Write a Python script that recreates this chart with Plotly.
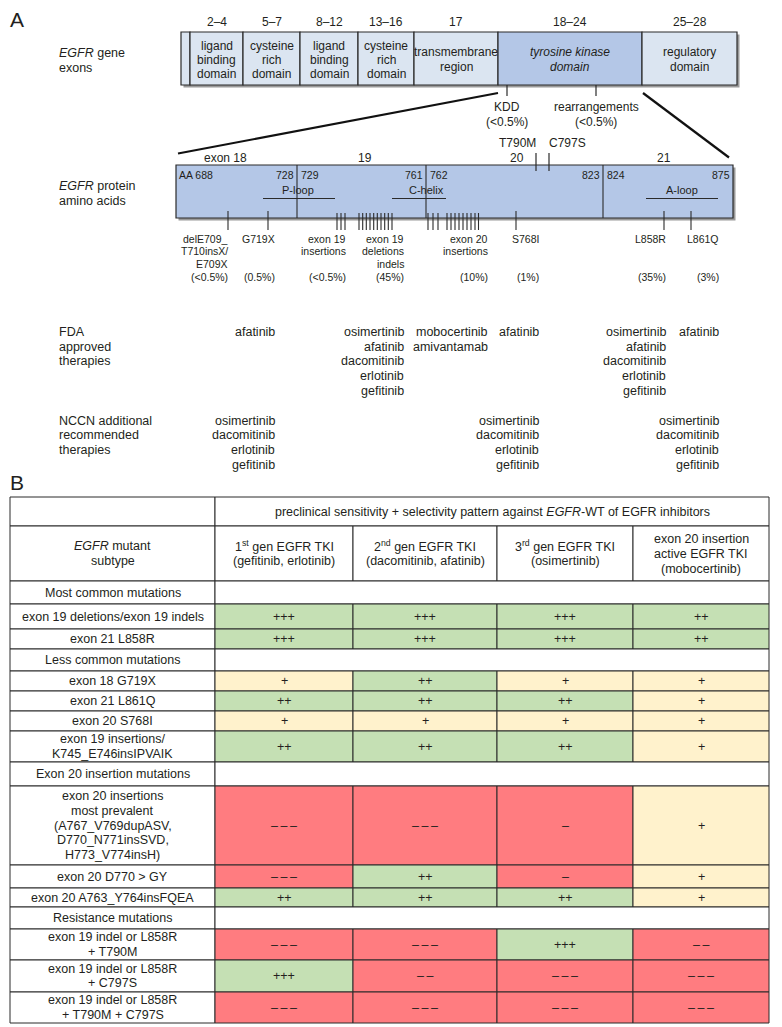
import plotly.graph_objects as go

W, H = 782, 1027
PAGE_MARGIN = 8  # default body margin of the written html page
FONT = "Liberation Sans, Arial, Helvetica, sans-serif"
TXT = "#231f20"
LINE = "#2b2b2b"
LIGHT_BLUE = "#dbe5f1"
MID_BLUE = "#b4c7e7"
GREEN = "#c5e0b4"
YELLOW = "#fff2cc"
RED = "#ff7c80"

# ------------------------------------------------------------------ data
gene_exon_labels = ["", "2–4", "5–7", "8–12", "13–16", "17", "18–24", "25–28"]
gene_domain_labels = ["", "ligand\nbinding\ndomain", "cysteine\nrich\ndomain",
                      "ligand\nbinding\ndomain", "cysteine\nrich\ndomain",
                      "transmembrane\nregion", "<i>tyrosine kinase</i>\n<i>domain</i>",
                      "regulatory\ndomain"]
kinase_callouts = ["KDD", "rearrangements"]
kinase_callout_freqs = ["(<0.5%)", "(<0.5%)"]

protein_exons = ["exon 18", "19", "20", "21"]
aa_start_labels = ["AA 688", "729", "762", "824"]
aa_end_labels = ["728", "761", "823", "875"]
motifs = ["P-loop", "C-helix", "A-loop"]
resistance_sites = ["T790M", "C797S"]

mutation_names = ["delE709_\nT710insX/\nE709X", "G719X", "exon 19\ninsertions",
                  "exon 19\ndeletions\nindels", "exon 20\ninsertions", "S768I",
                  "L858R", "L861Q"]
mutation_freqs = ["(<0.5%)", "(0.5%)", "(<0.5%)", "(45%)", "(10%)", "(1%)",
                  "(35%)", "(3%)"]
fda_therapies = [[], ["afatinib"], [],
                 ["osimertinib", "afatinib", "dacomitinib", "erlotinib", "gefitinib"],
                 ["mobocertinib", "amivantamab"], ["afatinib"],
                 ["osimertinib", "afatinib", "dacomitinib", "erlotinib", "gefitinib"],
                 ["afatinib"]]
nccn_therapies = [[], ["osimertinib", "dacomitinib", "erlotinib", "gefitinib"], [], [], [],
                  ["osimertinib", "dacomitinib", "erlotinib", "gefitinib"], [],
                  ["osimertinib", "dacomitinib", "erlotinib", "gefitinib"]]

table_title = "preclinical sensitivity + selectivity pattern against <i>EGFR</i>-WT of EGFR inhibitors"
table_corner = "<i>EGFR</i> mutant\nsubtype"
tki_columns = ["1<sup>st</sup> gen EGFR TKI\n(gefitinib, erlotinib)",
               "2<sup>nd</sup> gen EGFR TKI\n(dacomitinib, afatinib)",
               "3<sup>rd</sup> gen EGFR TKI\n(osimertinib)",
               "exon 20 insertion\nactive EGFR TKI\n(mobocertinib)"]
table_rows = ["Most common mutations",
              "exon 19 deletions/exon 19 indels",
              "exon 21 L858R",
              "Less common mutations",
              "exon 18 G719X",
              "exon 21 L861Q",
              "exon 20 S768I",
              "exon 19 insertions/\nK745_E746insIPVAIK",
              "Exon 20 insertion mutations",
              "exon 20 insertions\nmost prevalent\n(A767_V769dupASV,\nD770_N771insSVD,\nH773_V774insH)",
              "exon 20 D770 > GY",
              "exon 20 A763_Y764insFQEA",
              "Resistance mutations",
              "exon 19 indel or L858R\n+ T790M",
              "exon 19 indel or L858R\n+ C797S",
              "exon 19 indel or L858R\n+ T790M + C797S"]
gen1_tki = [None, "+++", "+++", None, "+", "++", "+", "++", None, "---", "---", "++", None, "---", "+++", "---"]
gen2_tki = [None, "+++", "+++", None, "++", "++", "+", "++", None, "---", "++", "++", None, "---", "--", "---"]
gen3_tki = [None, "+++", "+++", None, "+", "++", "+", "++", None, "-", "-", "++", None, "+++", "---", "---"]
mobocertinib = [None, "++", "++", None, "+", "+", "+", "+", None, "+", "+", "+", None, "--", "---", "---"]

# ------------------------------------------------------------------ geometry (page pixels)
gene_x = [181, 190, 243, 300, 358, 414, 498, 642, 737]
gene_y = (32, 85)
kinase_segment = 6
callout_x = [507, 596]
prot_x = [176, 297, 426, 603, 733]
prot_y = (165, 218)
prot_exon_label_x = [225, 365, 517, 664]
resistance_x = [536, 549]
resistance_label_x = [517, 567]
motif_span = [(263, 335), (392, 446), (646, 718)]
motif_label_x = [298, 426, 682]
mutation_ticks = [[228], [268], [337, 341, 345],
                  [359, 362.7, 366.3, 370, 373.7, 377.3, 381, 384.7, 388.3, 392],
                  [428, 433, 438, 447, 451, 455, 459, 463, 467, 471, 475, 478.5],
                  [516], [664], [691]]
mutation_label_right = [229, 276, 347, 405, 489, 540, 667, 720]
table_x = [10, 215, 353, 497, 633, 769]
table_y = [497, 526, 581, 604, 629, 649, 671, 691, 711, 731, 762, 786, 865, 888, 907,
           929, 960, 992, 1023]

shapes, annotations = [], []


def rect(x0, y0, x1, y1, fill, lw=1.0, lc=LINE):
    shapes.append(dict(type="rect", xref="x", yref="y", x0=x0, y0=y0, x1=x1, y1=y1,
                       fillcolor=fill, line=dict(color=lc, width=lw), layer="above"))


def seg(x0, y0, x1, y1, lw=1.2, lc=LINE):
    shapes.append(dict(type="line", xref="x", yref="y", x0=x0, y0=y0, x1=x1, y1=y1,
                       line=dict(color=lc, width=lw), layer="above"))


def text(x, y, s, size=12, anchor="center", color=TXT):
    annotations.append(dict(x=x, y=y, xref="x", yref="y", text=s, showarrow=False,
                            xanchor=anchor, yanchor="middle", borderpad=0,
                            font=dict(size=size, family=FONT, color=color)))


def block(x, y, s, size=12, lh=14, anchor="center", centered=True):
    lines = s.split("\n") if isinstance(s, str) else s
    n = len(lines)
    for i, ln in enumerate(lines):
        yy = y + (i - (n - 1) / 2) * lh if centered else y + i * lh
        text(x, yy, ln, size, anchor)


# ------------------------------------------------------------------ panel A
text(17, 19, "A", 21)
block(58, 53, ["<i>EGFR</i> gene", "exons"], 12.5, 14.5, "left", centered=False)
block(58, 186, ["<i>EGFR</i> protein", "amino acids"], 12.5, 14.5, "left", centered=False)

# gene box
rect(gene_x[0] + 2.5, gene_y[0] + 2.5, gene_x[-1] + 2.5, gene_y[1] + 2.5, "#9a9a9a", 0, "#9a9a9a")
for i in range(len(gene_x) - 1):
    fill = MID_BLUE if i == kinase_segment else LIGHT_BLUE
    rect(gene_x[i], gene_y[0], gene_x[i + 1], gene_y[1], fill, 1.2)
    cx = (gene_x[i] + gene_x[i + 1]) / 2
    if gene_exon_labels[i]:
        text(cx, 22, gene_exon_labels[i], 12)
    if gene_domain_labels[i]:
        lh = 14 if gene_domain_labels[i].count("\n") == 2 else 15
        block(cx, 59.5, gene_domain_labels[i], 12, lh)

for i, cx in enumerate(callout_x):
    seg(cx, gene_y[1], cx, 96, 1.2)
    block(cx, 107, [kinase_callouts[i], kinase_callout_freqs[i]], 12, 14.5, centered=False)

# zoom lines
seg(gene_x[kinase_segment], 93, prot_x[0] + 2, 153.5, 2.2, "#111")
seg(gene_x[kinase_segment + 1] + 1, 93, 729, 157.5, 2.2, "#111")

# protein box
rect(prot_x[0] + 2.5, prot_y[0] + 2.5, prot_x[-1] + 2.5, prot_y[1] + 2.5, "#9a9a9a", 0, "#9a9a9a")
rect(prot_x[0], prot_y[0], prot_x[-1], prot_y[1], MID_BLUE, 1.2)
for bx in prot_x[1:-1]:
    seg(bx, prot_y[0], bx, prot_y[1], 1.1)
for i, lab in enumerate(protein_exons):
    text(prot_exon_label_x[i], 158, lab, 12)
for i in range(4):
    text(prot_x[i] + (2 if i == 0 else 2.5), 174.5, aa_start_labels[i], 10.5, "left")
    text(prot_x[i + 1] - 2.5, 174.5, aa_end_labels[i], 10.5, "right")
for i, (a, b) in enumerate(motif_span):
    seg(a, 198.5, b, 198.5, 1.2)
    text(motif_label_x[i], 190, motifs[i], 11)
for i, rx in enumerate(resistance_x):
    seg(rx, 153, rx, 171, 1.2)
    text(resistance_label_x[i], 143, resistance_sites[i], 12)

# mutation ticks and labels
for i, ticks in enumerate(mutation_ticks):
    top = 211 if len(ticks) == 1 else 213
    for tx in ticks:
        seg(tx, top, tx, 230, 1.1)
    lines = mutation_names[i].split("\n")
    block(mutation_label_right[i], 238.5, lines, 10.5, 12.6, "right", centered=False)
    text(mutation_label_right[i], 276.5, mutation_freqs[i], 10.5, "right")

# therapies
block(58, 332, ["FDA", "approved", "therapies"], 12.5, 14.7, "left", centered=False)
block(58, 420.5, ["NCCN additional", "recommended", "therapies"], 12.5, 14.7, "left", centered=False)
for i, drugs in enumerate(fda_therapies):
    if drugs:
        block(mutation_label_right[i], 332, drugs, 12.5, 14.7, "right", centered=False)
for i, drugs in enumerate(nccn_therapies):
    if drugs:
        block(mutation_label_right[i], 420.5, drugs, 12.5, 14.7, "right", centered=False)

# ------------------------------------------------------------------ panel B
text(17, 482, "B", 21)


def cell_color(v):
    if v.startswith("+"):
        return YELLOW if v == "+" else GREEN
    return RED


def fmt(v):
    ch = "+" if v.startswith("+") else "–"
    sep = "" if ch == "+" else "\u2009"
    return sep.join([ch] * len(v))


L = 1.0
rect(table_x[0], table_y[0], table_x[1], table_y[1], "white", L)
rect(table_x[1], table_y[0], table_x[-1], table_y[1], "white", L)
text((table_x[1] + table_x[-1]) / 2, (table_y[0] + table_y[1]) / 2 + 0.5, table_title, 12.5)
rect(table_x[0], table_y[1], table_x[1], table_y[2], "white", L)
block((table_x[0] + table_x[1]) / 2, (table_y[1] + table_y[2]) / 2, table_corner, 12.5, 15.5)
for j, lab in enumerate(tki_columns):
    rect(table_x[j + 1], table_y[1], table_x[j + 2], table_y[2], "white", L)
    block((table_x[j + 1] + table_x[j + 2]) / 2, (table_y[1] + table_y[2]) / 2, lab, 12.5, 15)

columns = [gen1_tki, gen2_tki, gen3_tki, mobocertinib]
for r, lab in enumerate(table_rows):
    y0, y1 = table_y[r + 2], table_y[r + 3]
    cy = (y0 + y1) / 2
    rect(table_x[0], y0, table_x[1], y1, "white", L)
    block((table_x[0] + table_x[1]) / 2, cy, lab, 12.5, 14.7)
    if columns[0][r] is None:
        rect(table_x[1], y0, table_x[-1], y1, "white", L)
        continue
    for j, col in enumerate(columns):
        v = col[r]
        rect(table_x[j + 1], y0, table_x[j + 2], y1, cell_color(v), L)
        text((table_x[j + 1] + table_x[j + 2]) / 2, cy, fmt(v), 12.5)

# the page body has an 8 px margin, so the figure is offset by it;
# axis ranges are shifted so that data coordinates equal page pixels
M = PAGE_MARGIN
fig = go.Figure(go.Scatter(x=[M, W], y=[M, H], mode="markers", marker=dict(opacity=0),
                           hoverinfo="skip", showlegend=False))
fig.update_layout(width=W - M, height=H - M, margin=dict(l=0, r=0, t=0, b=0),
                  paper_bgcolor="white", plot_bgcolor="white",
                  xaxis=dict(range=[M, W], visible=False, fixedrange=True),
                  yaxis=dict(range=[H, M], visible=False, fixedrange=True),
                  shapes=shapes, annotations=annotations, showlegend=False)
fig.write_html("out.html")
